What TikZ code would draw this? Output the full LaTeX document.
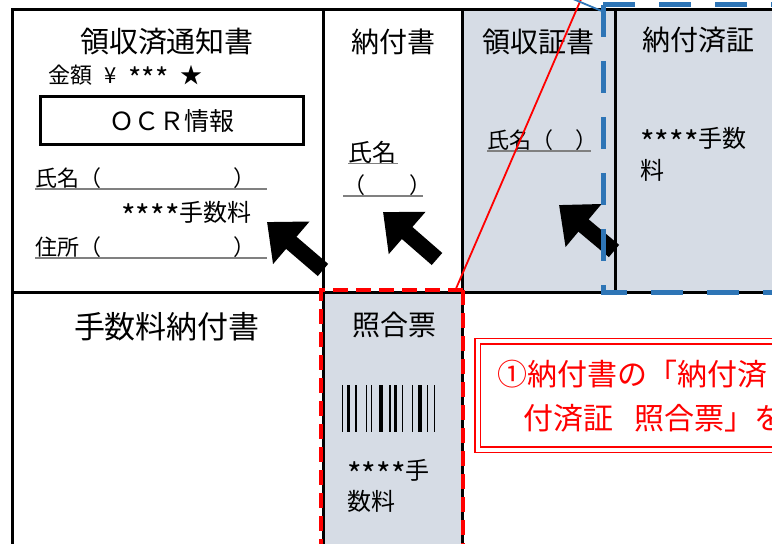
\documentclass[tikz,border=0pt]{standalone}
\usepackage{graphicx}
\usepackage{fontspec}
\setmainfont{Noto Sans CJK JP}
\usetikzlibrary{arrows.meta}

\definecolor{formgray}{HTML}{D6DCE5}
\definecolor{markblue}{HTML}{2E75B6}
\definecolor{markred}{HTML}{FF0000}

\newcommand{\lowast}[1]{\raisebox{-0.5ex}{\scalebox{1.3}{#1}}}

\tikzset{
  formtitle/.style={font=\fontsize{14pt}{16pt}\selectfont},
  field/.style={font=\fontsize{11pt}{16pt}\selectfont, anchor=west, inner sep=0pt},
  uline/.style={draw=gray, line width=0.8pt},
  bigarrow/.style={line width=8pt, -{Triangle[length=16pt,width=27pt]}},
}

\begin{document}
\begin{tikzpicture}[x=0.5pt,y=-0.5pt]

      \useasboundingbox (0,0) rectangle (772,544);
      \clip (0,0) rectangle (772,544);
      \fill[white] (0,0) rectangle (772,544);

      % shaded parts
      \fill[formgray] (462,10) rectangle (790,293);
      \fill[formgray] (323,293) rectangle (462,560);

      % frame
      \begin{scope}[line width=1.5pt]
        \draw (12,560) -- (12,10) -- (790,10);
        \draw (12,293) -- (790,293);
        \draw (323,10) -- (323,560);
        \draw (462,10) -- (462,560);
        \draw (615,10) -- (615,293);
      \end{scope}

      % texts
      \begin{scope}[every node/.style={formtitle}]
        \node[font=\fontsize{14.5pt}{16pt}\selectfont] (tsuchi) at (167,42) {領収済通知書};
        \node (nofu)    at (393,42)  {納付書};
        \node (ryoshu)  at (538,42)  {領収証書};
        \node (zumi)    at (698,40)  {納付済証};
        \node[font=\fontsize{15.5pt}{17pt}\selectfont] (tesuryo) at (167,327) {手数料納付書};
        \node (shogo)   at (394,325) {照合票};
      \end{scope}

      \node[field] (kingaku) at (48,77)
        {金額\hspace{6pt}¥\hspace{6pt}\lowast{***}\hspace{6pt}★};
      \node[draw, line width=1.5pt, minimum width=131.5pt, minimum height=24pt,
            font=\fontsize{12.5pt}{14pt}\selectfont] (ocr) at (171.5,121) {ＯＣＲ情報};
      \node[field] (shimei1) at (35,178) {氏名（　　　　　　）};
      \node[field, font=\fontsize{12pt}{16pt}\selectfont] (tesu1) at (121,215) {\lowast{****}手数料};
      \node[field] (jusho)   at (35,247) {住所（　　　　　　）};
      \node[field, font=\fontsize{12pt}{14pt}\selectfont] (shimei2) at (348,152) {氏名};
      \node[field] (kakko2)  at (343,185) {（　　）};
      \node[field] (shimei3) at (487,140) {氏名（　）};
      \node[field, font=\fontsize{12pt}{16pt}\selectfont, anchor=north west, align=left]
        (tesu2) at (640,127) {\lowast{****}手数\\料};
      \node[field, font=\fontsize{12pt}{15.5pt}\selectfont, anchor=north west, align=left]
        (tesu3) at (347,459) {\lowast{****}手\\数料};

      % underlines
      \draw[uline] (shimei1.south west) -- ++(232,0);
      \draw[uline] (jusho.south west)   -- ++(232,0);
      \draw[uline] (shimei2.south west) -- ++(50,0);
      \draw[uline] (kakko2.south west)  -- ++(80,0);
      \draw[uline] (shimei3.south west) -- ++(104,0);

      % barcode
      \foreach \bx/\bw in {342.7/1.5, 348.3/3.5, 356/1.5, 366.7/1.5, 371.7/1.5, 380.5/4,
                           390/1.5, 395.5/3.5, 402.7/1.5, 412.7/1.5, 420/3.5, 427.3/1.5, 434.3/1.5}
        \fill (\bx-\bw/2,385) rectangle (\bx+\bw/2,432);

      % arrows
      \coordinate (a1tail) at (323,270);
      \coordinate (a1tip)  at (267,222);
      \coordinate (a2tail) at (437,259);
      \coordinate (a2tip)  at (383,212);
      \coordinate (a3tail) at (614,251);
      \coordinate (a3tip)  at (559,205);
      \draw[bigarrow] (a1tail) -- (a1tip);
      \draw[bigarrow] (a2tail) -- (a2tip);
      \draw[bigarrow] (a3tail) -- (a3tip);

      % marks
      \begin{scope}[markblue, line width=2.5pt, dash pattern=on 16pt off 12pt]
        \draw (603,5) -- (790,5);
        \draw (603,5) -- (603,293) -- (790,293);
      \end{scope}
      \begin{scope}[markred, line width=1.75pt, dash pattern=on 7.5pt off 4pt]
        \draw (463,290) -- (321,290) -- (321,560);
        \draw (463,290) -- (463,560);
      \end{scope}
      \draw[markred, line width=0.9pt] (455,291) -- (585,-10);
      \draw[markblue, line width=0.9pt] (566,-4) -- (604,12);

      \node[draw=markred, line width=0.75pt, double=white, double distance=2pt,
            fill=white, anchor=west, minimum height=54.25pt, text width=160pt,
            inner xsep=10pt, align=left, text=markred,
            font=\fontsize{15pt}{22pt}\selectfont] (note) at (477,395.75)
            {①納付書の「納付済\\\hspace*{0.85em}付済証\hspace{0.7em}照合票」を};

\end{tikzpicture}
\end{document}
